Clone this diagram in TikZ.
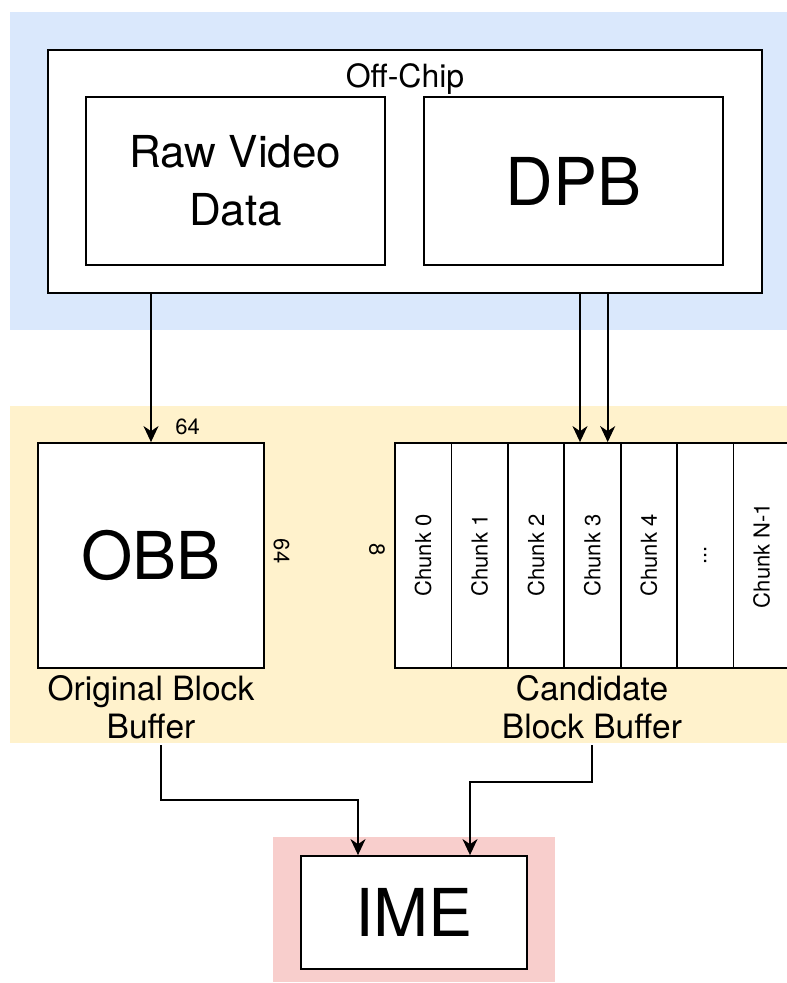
\documentclass[tikz,border=0pt]{standalone}
\usepackage{fontspec}
\setmainfont{TeX Gyre Heros}
\usetikzlibrary{arrows.meta}

\definecolor{chipblue}{HTML}{DAE8FC}
\definecolor{bufyellow}{HTML}{FFF2CC}
\definecolor{imepink}{HTML}{F8CECC}

\tikzset{
  box/.style={rectangle, draw, line width=1.8pt, fill=white, inner sep=0pt},
  chunk/.style={box, rotate=90, minimum width=225pt, minimum height=56.4pt,
                font=\fontsize{22}{26}\selectfont},
  arr/.style={line width=1.8pt, -{Stealth[length=16pt,width=15pt,inset=5pt]}},
  bigtext/.style={font=\fontsize{66}{72}\selectfont},
  midtext/.style={font=\fontsize{33.5}{38}\selectfont, align=center},
  smalltext/.style={font=\fontsize{22}{26}\selectfont, inner sep=0pt}
}

\begin{document}
\begin{tikzpicture}[x=1pt, y=-1pt]

            %\draw [help lines] (0,0) grid (787,983);
            \useasboundingbox (0,0) rectangle (787,983);

            % background areas
            \fill[chipblue]  (10,12)   rectangle (787,330);
            \fill[bufyellow] (10,406)  rectangle (787,743);
            \fill[imepink]   (273,837) rectangle (555,982);

            \path   (405,171.5) node (offchip) [box, minimum width=714pt, minimum height=243pt] {}
                    (405,87) node (offchiplabel) [anchor=base, font=\fontsize{32}{36}\selectfont] {Off-Chip}
                    (235.5,181) node (raw) [box, minimum width=299pt, minimum height=168pt,
                                            align=center, font=\fontsize{44}{58}\selectfont] {Raw Video\\Data}
                    (573.5,181) node (dpb) [box, bigtext, minimum width=299pt, minimum height=168pt] {DPB};

            \path   (151,555.5) node (obb) [box, bigtext, minimum width=226pt, minimum height=225pt] {OBB}
                    (187.5,427) node (obbtop) [smalltext] {64}
                    (281.5,551) node (obbside) [smalltext, rotate=-90] {64}
                    (377,550) node (cbbside) [smalltext, rotate=-90] {8}
                    (151,707) node (obblabel) [midtext] {Original Block\\Buffer};

            \path   (423.2,555.5) node (chunk0) [chunk] {Chunk 0}
                    (479.6,555.5) node (chunk1) [chunk] {Chunk 1}
                    (536.0,555.5) node (chunk2) [chunk] {Chunk 2}
                    (592.4,555.5) node (chunk3) [chunk] {Chunk 3}
                    (648.8,555.5) node (chunk4) [chunk] {Chunk 4}
                    (705.2,555.5) node (chunkdots) [chunk] {...}
                    (761.6,555.5) node (chunklast) [chunk] {Chunk N-1}
                    (592,707) node (cbblabel) [midtext] {Candidate\\Block Buffer};

            \path   (414,912.5) node (ime) [box, bigtext, minimum width=226pt, minimum height=113pt] {IME};

            \coordinate (dpbin1) at ([xshift=-12.4pt]chunk3.east);
            \coordinate (dpbin2) at ([xshift=15.3pt]chunk3.east);
            \coordinate (obbout) at (161,745);
            \coordinate (cbbout) at (592,745);
            \coordinate (imein1) at ([xshift=-56pt]ime.north);
            \coordinate (imein2) at ([xshift=56pt]ime.north);

            \draw[arr] (obb.north |- offchip.south) -- (obb.north);
            \draw[arr] (dpbin1 |- offchip.south) -- (dpbin1);
            \draw[arr] (dpbin2 |- offchip.south) -- (dpbin2);
            \draw[arr] (obbout) -- ++(0,55) -| (imein1);
            \draw[arr] (cbbout) -- ++(0,37) -| (imein2);
        \end{tikzpicture}
\end{document}
